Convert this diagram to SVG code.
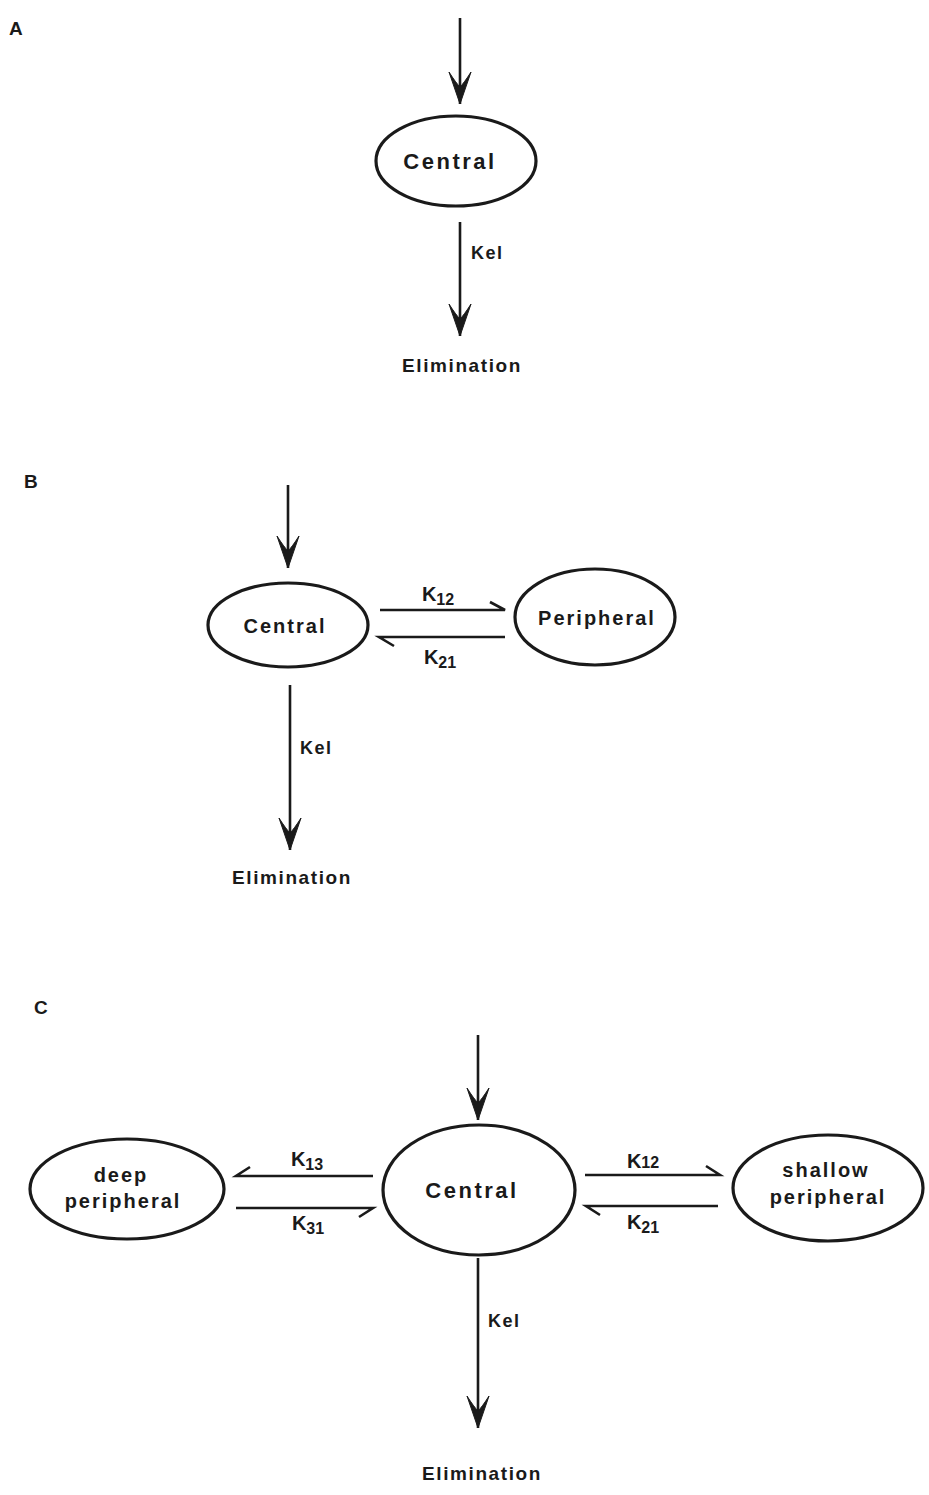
<svg xmlns="http://www.w3.org/2000/svg" width="929" height="1495" viewBox="0 0 929 1495">
<defs>
<marker id="dart" markerUnits="userSpaceOnUse" orient="auto" markerWidth="40" markerHeight="30" refX="0" refY="0" viewBox="-34 -15 36 30" overflow="visible">
<path d="M0,0 L-32,-11 Q-21,-4 -17,0 Q-21,4 -32,11 Z" fill="#1a1a1a" stroke="#1a1a1a" stroke-width="1"/>
</marker>
<style>
.node{fill:none;stroke:#1a1a1a;stroke-width:3.2}
.t{font-family:"Liberation Sans",Arial,sans-serif;font-weight:bold;fill:#1a1a1a;text-anchor:middle}
.name{font-size:22px;letter-spacing:2.5px}
.name2{font-size:20px;letter-spacing:2px}
.elim{font-size:19px;letter-spacing:1.6px}
.kel{font-size:18px;letter-spacing:1.5px;text-anchor:start}
.k{font-size:20px}
.sub{font-size:16px}
.panel{font-size:19px;text-anchor:start}
.arr{fill:none;stroke:#1a1a1a;stroke-width:2.6;marker-end:url(#dart)}
.half{fill:none;stroke:#1a1a1a;stroke-width:2.6}
</style>
</defs>

<g id="labels">
<text class="t panel" x="9" y="35">A</text>
<text class="t panel" x="24" y="488">B</text>
<text class="t panel" x="34" y="1014">C</text>
</g>

<g id="connectors">
<!-- A -->
<line class="arr" x1="460" y1="18" x2="460" y2="104"/>
<line class="arr" x1="460" y1="222" x2="460" y2="336"/>
<!-- B -->
<line class="arr" x1="288" y1="485" x2="288" y2="568"/>
<line class="arr" x1="290" y1="685" x2="290" y2="850"/>
<path class="half" d="M380,610 H505 L490,602"/>
<path class="half" d="M505,637 H379 L394,646"/>
<!-- C -->
<line class="arr" x1="478" y1="1035" x2="478" y2="1120"/>
<line class="arr" x1="478" y1="1258" x2="478" y2="1428"/>
<path class="half" d="M373,1176 H236 L250,1167"/>
<path class="half" d="M236,1208 H373 L359,1217"/>
<path class="half" d="M585,1175 H720 L706,1166"/>
<path class="half" d="M718,1206 H586 L600,1215"/>
</g>

<g id="edge-labels">
<text class="t kel" x="471" y="259">Kel</text>
<text class="t kel" x="300" y="754">Kel</text>
<text class="t kel" x="488" y="1327">Kel</text>
<text class="t k" x="438" y="601">K<tspan class="sub" dy="4">12</tspan></text>
<text class="t k" x="440" y="664">K<tspan class="sub" dy="4">21</tspan></text>
<text class="t k" x="307" y="1166">K<tspan class="sub" dy="4">13</tspan></text>
<text class="t k" x="308" y="1230">K<tspan class="sub" dy="4">31</tspan></text>
<text class="t k" x="643" y="1168">K<tspan class="sub" dy="0">12</tspan></text>
<text class="t k" x="643" y="1229">K<tspan class="sub" dy="4">21</tspan></text>
</g>

<g id="A-central">
<ellipse class="node" cx="456" cy="161" rx="80" ry="45"/>
<text class="t name" x="450" y="169">Central</text>
</g>
<g id="A-elimination">
<text class="t elim" x="462" y="372">Elimination</text>
</g>

<g id="B-central">
<ellipse class="node" cx="288" cy="625" rx="80" ry="42"/>
<text class="t name2" x="285" y="633">Central</text>
</g>
<g id="B-peripheral">
<ellipse class="node" cx="595" cy="617" rx="80" ry="48"/>
<text class="t name2" x="597" y="625">Peripheral</text>
</g>
<g id="B-elimination">
<text class="t elim" x="292" y="884">Elimination</text>
</g>

<g id="C-central">
<ellipse class="node" cx="479" cy="1190" rx="96" ry="65"/>
<text class="t name" x="472" y="1198">Central</text>
</g>
<g id="C-deep">
<ellipse class="node" cx="127" cy="1189" rx="97" ry="50"/>
<text class="t name2" x="121" y="1182">deep</text>
<text class="t name2" x="123" y="1208">peripheral</text>
</g>
<g id="C-shallow">
<ellipse class="node" cx="828" cy="1188" rx="95" ry="53"/>
<text class="t name2" x="826" y="1177">shallow</text>
<text class="t name2" x="828" y="1204">peripheral</text>
</g>
<g id="C-elimination">
<text class="t elim" x="482" y="1480">Elimination</text>
</g>
</svg>
